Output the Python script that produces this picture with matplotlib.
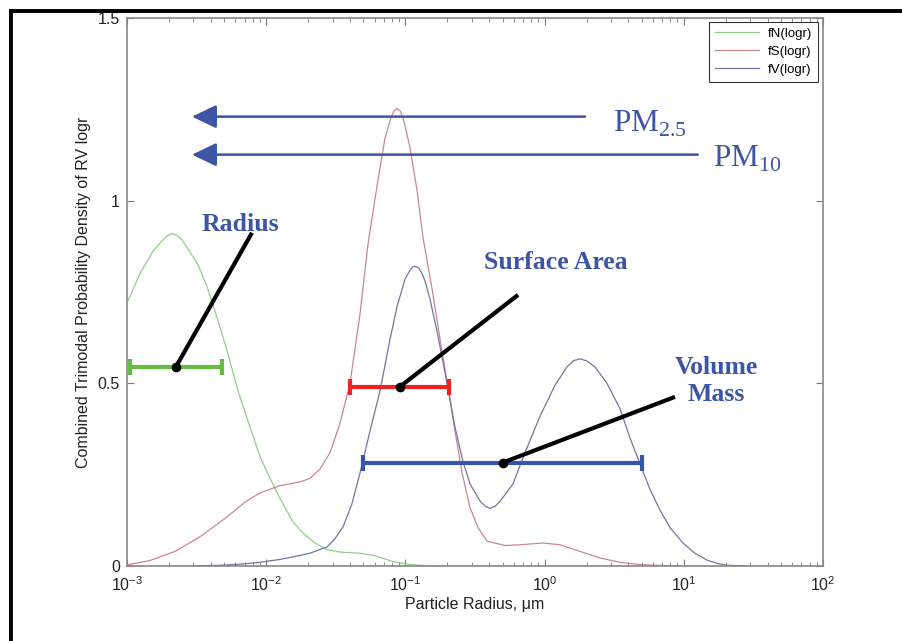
import numpy as np
import matplotlib.pyplot as plt
from matplotlib.lines import Line2D

# curves: log10 of radius (um) and density
log_r_fN = [-3.000, -2.907, -2.813, -2.749, -2.713, -2.677, -2.641, -2.605, -2.569, -2.497,
            -2.425, -2.353, -2.282, -2.203, -2.116, -2.045, -1.973, -1.901, -1.807, -1.721,
            -1.649, -1.563, -1.470, -1.326, -1.218, -1.089, -0.967, -0.845, -0.716]
fN = [0.72, 0.80, 0.862, 0.89, 0.903, 0.91, 0.905, 0.893, 0.872, 0.83,
      0.765, 0.68, 0.59, 0.48, 0.38, 0.30, 0.24, 0.185, 0.12, 0.085,
      0.063, 0.045, 0.038, 0.035, 0.028, 0.012, 0.004, 0.001, 0.0]

log_r_fS = [-3.000, -2.835, -2.655, -2.476, -2.296, -2.152, -2.045, -1.901, -1.757, -1.685,
            -1.614, -1.542, -1.470, -1.398, -1.326, -1.269, -1.204, -1.147, -1.103, -1.081,
            -1.060, -1.038, -1.017, -0.967, -0.917, -0.874, -0.809, -0.751, -0.694, -0.644,
            -0.593, -0.536, -0.478, -0.414, -0.284, -0.177, -0.011, 0.111, 0.254, 0.398,
            0.542, 0.685, 0.865, 1.045]
fS = [0.003, 0.015, 0.04, 0.08, 0.13, 0.175, 0.20, 0.22, 0.23, 0.24,
      0.265, 0.31, 0.39, 0.50, 0.69, 0.88, 1.04, 1.17, 1.228, 1.246,
      1.252, 1.246, 1.228, 1.145, 1.03, 0.90, 0.76, 0.62, 0.49, 0.37,
      0.255, 0.16, 0.105, 0.068, 0.056, 0.058, 0.063, 0.058, 0.04, 0.022,
      0.01, 0.004, 0.001, 0.0]

log_r_fV = [-2.547, -2.332, -2.188, -2.045, -1.901, -1.807, -1.685, -1.563, -1.506, -1.448,
            -1.384, -1.326, -1.254, -1.182, -1.111, -1.060, -1.003, -0.967, -0.945, -0.924,
            -0.902, -0.880, -0.859, -0.823, -0.766, -0.701, -0.644, -0.586, -0.536, -0.464,
            -0.428, -0.392, -0.356, -0.320, -0.227, -0.141, -0.033, 0.075, 0.161, 0.208,
            0.254, 0.300, 0.362, 0.448, 0.542, 0.614, 0.685, 0.757, 0.829, 0.901,
            0.994, 1.080, 1.167, 1.239, 1.310, 1.440]
fV = [0.0, 0.002, 0.005, 0.01, 0.018, 0.025, 0.035, 0.052, 0.075, 0.107,
      0.17, 0.255, 0.37, 0.48, 0.62, 0.71, 0.785, 0.81, 0.819, 0.82,
      0.815, 0.80, 0.78, 0.73, 0.63, 0.50, 0.38, 0.285, 0.225, 0.178,
      0.164, 0.158, 0.163, 0.177, 0.225, 0.31, 0.41, 0.495, 0.545, 0.562,
      0.567, 0.562, 0.545, 0.50, 0.43, 0.35, 0.28, 0.21, 0.153, 0.105,
      0.063, 0.035, 0.016, 0.007, 0.002, 0.0]

legend_labels = ['fN(logr)', 'fS(logr)', 'fV(logr)']

# size ranges marked with bars (um) and the height they sit at
range_names = ['Radius', 'Surface Area', 'Volume\nMass']
range_lo = [1.05e-3, 0.040, 0.05]
range_hi = [4.8e-3, 0.206, 5.0]
range_y = [0.545, 0.49, 0.283]

# PM cut-offs (um) and arrow heights
pm_labels = [r'PM$_{\mathdefault{2.5}}$', r'PM$_{\mathdefault{10}}$']
pm_start = [1.95, 12.6]
pm_y = [1.23, 1.126]

y_ticks = [0, 0.5, 1, 1.5]
y_tick_labels = ['0', '0.5', '1', '1.5']

curve_colors = ['#8fd086', '#c98790', '#7474a4']
bar_colors = ['#66bb44', '#ee2222', '#3a55a8']
text_blue = '#3c55a5'

plt.rcParams['font.family'] = ['Liberation Sans', 'DejaVu Sans']

fig = plt.figure(figsize=(9.03, 6.41), dpi=100)
ax = fig.add_axes([127/903, 75/641, 696/903, 548/641])

for lr, f, c, lab in zip([log_r_fN, log_r_fS, log_r_fV], [fN, fS, fV], curve_colors, legend_labels):
    ax.plot(10**np.array(lr), f, color=c, lw=0.9, label=lab)

ax.set_xscale('log')
ax.set_xlim(1e-3, 1e2)
ax.set_ylim(0, 1.5)
ax.set_yticks(y_ticks)
ax.set_yticklabels(y_tick_labels)
ax.tick_params(which='both', direction='in', top=True, right=True, colors='#777777',
               labelcolor='#222222', labelsize=11.5)
ax.tick_params(which='major', length=5, width=0.8)
ax.tick_params(which='minor', length=3, width=0.6)
ax.tick_params(axis='x', pad=7)
ax.tick_params(axis='y', pad=5)
for s in ax.spines.values():
    s.set_color('#888888')
    s.set_linewidth(1.2)

ax.set_xlabel('Particle Radius, \u03bcm', fontsize=11.5, color='#222222', labelpad=2)
ax.set_ylabel('Combined Trimodal Probability Density of RV logr', fontsize=11.5,
              color='#222222', labelpad=5)

leg = ax.legend(loc='upper right', bbox_to_anchor=(0.993, 0.993), borderaxespad=0,
                fancybox=False, framealpha=1, edgecolor='#333333', fontsize=9.5,
                handlelength=3.3, handletextpad=0.7, labelspacing=0.42, borderpad=0.45)
leg.get_frame().set_linewidth(0.8)

# range bars with pointer lines
text_pos = [(6.5e-3, 0.934), (1.21, 0.83), (17.0, 0.507)]
pointer_end = [(7.9e-3, 0.912), (0.644, 0.742), (8.65, 0.463)]
for lo, hi, y, c, name, tp, pe in zip(range_lo, range_hi, range_y, bar_colors,
                                      range_names, text_pos, pointer_end):
    mid = np.sqrt(lo * hi)
    ax.errorbar([mid], [y], xerr=[[mid - lo], [hi - mid]], fmt='none', ecolor=c,
                elinewidth=3, capsize=5.8, capthick=3, zorder=4)
    ax.plot([mid, pe[0]], [y, pe[1]], color='black', lw=3, solid_capstyle='butt', zorder=5)
    ax.plot([mid], [y], 'o', ms=6, mfc='black', mec='black', zorder=6)
    ax.text(tp[0], tp[1], name, color=text_blue, fontsize=18.5, fontweight='bold',
            family='Liberation Serif', ha='center', va='center', linespacing=1.2, zorder=6)

# PM arrows
pm_text_x = [3.1, 16.2]
pm_text_y = [1.189, 1.093]
for lab, x0, y, tx, ty in zip(pm_labels, pm_start, pm_y, pm_text_x, pm_text_y):
    ax.annotate('', xy=(2.93e-3, y), xytext=(x0, y),
                arrowprops=dict(arrowstyle='-|>,head_length=15,head_width=7.2',
                                mutation_scale=1, color=text_blue, lw=1.8,
                                shrinkA=0, shrinkB=0))
    ax.text(tx, ty, lab, color=text_blue, fontsize=22.5, family='Liberation Serif',
            ha='left', va='baseline')

# black frame around the figure (top and left edges)
fig.add_artist(Line2D([11/903, 1.0], [1 - 11/641, 1 - 11/641], color='black', lw=2.8,
                      transform=fig.transFigure))
fig.add_artist(Line2D([11/903, 11/903], [0, 1 - 11/641], color='black', lw=2.8,
                      transform=fig.transFigure))

fig.savefig('out.png', dpi=100)
